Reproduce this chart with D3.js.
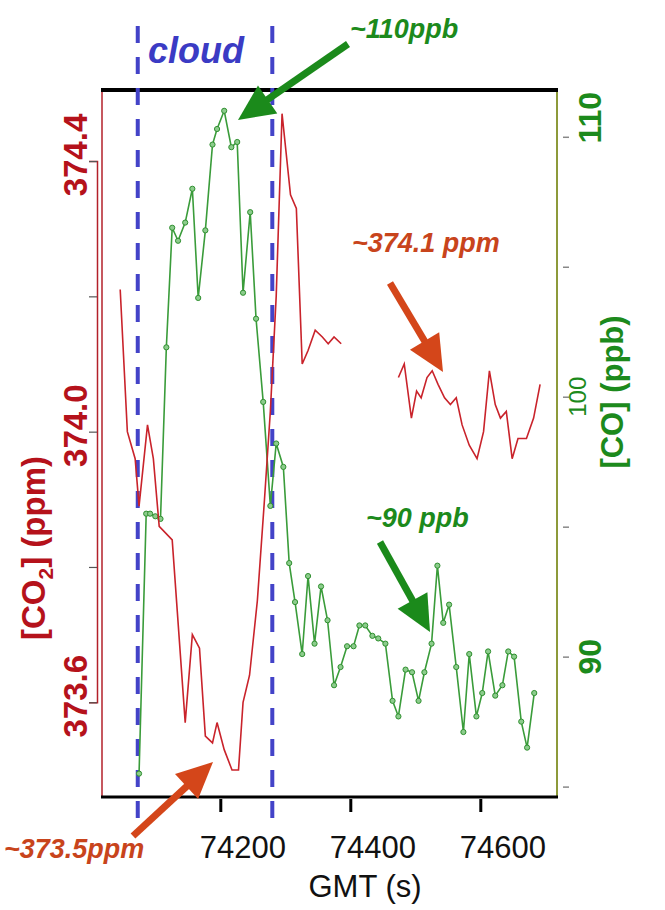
<!DOCTYPE html>
<html>
<head>
<meta charset="utf-8">
<script src="https://cdn.jsdelivr.net/npm/d3@7"></script>
<style>
  html, body { margin: 0; padding: 0; background: #fff; }
  svg { display: block; font-family: 'Liberation Sans', Arial, sans-serif; }
</style>
</head>
<body>
<div id="chart"></div>
<script>
// GMT seconds and [CO2] ppm, first segment
const co2TimeA = [74046, 74057, 74069, 74075, 74088, 74097, 74106, 74126, 74146, 74157, 74168, 74177, 74188, 74195, 74206, 74218, 74228, 74235, 74245, 74257, 74268, 74277, 74286, 74295, 74308, 74317, 74326, 74335, 74346, 74357, 74366, 74375, 74386]
const co2ValA = [374.21, 374.00, 373.96, 373.89, 374.01, 373.96, 373.86, 373.84, 373.57, 373.70, 373.68, 373.55, 373.54, 373.57, 373.53, 373.50, 373.50, 373.60, 373.64, 373.75, 373.90, 374.03, 374.20, 374.47, 374.35, 374.33, 374.10, 374.12, 374.15, 374.14, 374.13, 374.14, 374.13]
// second segment (after the data gap)
const co2TimeB = [74474, 74483, 74494, 74502, 74509, 74518, 74526, 74535, 74545, 74554, 74563, 74572, 74583, 74595, 74605, 74614, 74623, 74631, 74640, 74649, 74658, 74671, 74682, 74692]
const co2ValB = [374.08, 374.10, 374.02, 374.06, 374.05, 374.08, 374.09, 374.07, 374.05, 374.04, 374.05, 374.01, 373.98, 373.96, 374.00, 374.09, 374.04, 374.02, 374.03, 373.96, 373.99, 373.99, 374.02, 374.07]
// [CO] ppb
const coTime = [74075, 74086, 74092, 74100, 74108, 74117, 74126, 74135, 74146, 74157, 74166, 74177, 74188, 74195, 74206, 74217, 74226, 74235, 74246, 74255, 74266, 74277, 74286, 74297, 74306, 74315, 74326, 74335, 74345, 74355, 74365, 74375, 74385, 74395, 74405, 74414, 74423, 74434, 74443, 74454, 74465, 74474, 74485, 74495, 74505, 74514, 74525, 74534, 74543, 74552, 74563, 74574, 74583, 74594, 74603, 74612, 74623, 74634, 74643, 74652, 74663, 74672, 74683]
const coVal = [85.5, 95.5, 95.5, 95.4, 95.3, 101.9, 106.5, 106.0, 106.7, 108.0, 103.8, 106.4, 109.7, 110.3, 111.0, 109.6, 109.8, 104.0, 107.1, 103.0, 99.8, 95.8, 98.2, 97.3, 93.6, 92.1, 90.1, 93.1, 90.5, 92.7, 91.4, 88.9, 89.6, 90.4, 90.4, 91.2, 91.2, 90.8, 90.7, 90.5, 88.3, 87.7, 89.5, 89.4, 88.3, 89.4, 90.5, 93.5, 91.3, 92.0, 89.6, 87.1, 90.1, 87.7, 88.6, 90.2, 88.5, 88.9, 90.2, 90.0, 87.5, 86.5, 88.6]

const cloudEdges = [74073, 74280]
const xTicks = [74200, 74400, 74600]
const co2Ticks = [373.6, 373.8, 374.0, 374.2, 374.4]
const co2Labels = [373.6, 374.0, 374.4]
const coTicks = [85, 90, 95, 100, 105, 110]
const coLabels = [90, 100, 110]

const W = 665
const H = 910
const pLeft = 102, pRight = 557, pTop = 90, pBottom = 797

const svg = d3.select('#chart').append('svg')
  .attr('width', W)
  .attr('height', H)

const x = d3.scaleLinear().domain([74018, 74718]).range([pLeft, pRight])
const yCO2 = d3.scaleLinear().domain([373.46, 374.505]).range([pBottom, pTop])
const yCO = d3.scaleLinear().domain([84.6, 111.8]).range([pBottom, pTop])

const red = '#c9232b'
const green = '#3a9c3a'
const textGreen = '#1c8a1c'
const orange = '#c8441c'

// frame
svg.append('line').attr('x1', pLeft).attr('x2', pLeft).attr('y1', pTop).attr('y2', pBottom)
  .attr('stroke', '#b3202a').attr('stroke-width', 1.5)
svg.append('line').attr('x1', pRight).attr('x2', pRight).attr('y1', pTop).attr('y2', pBottom)
  .attr('stroke', '#8d9a3a').attr('stroke-width', 2)
svg.append('line').attr('x1', pLeft - 1).attr('x2', pRight + 1).attr('y1', pTop).attr('y2', pTop)
  .attr('stroke', '#000').attr('stroke-width', 4)
svg.append('line').attr('x1', pLeft - 1).attr('x2', pRight + 1).attr('y1', pBottom).attr('y2', pBottom)
  .attr('stroke', '#000').attr('stroke-width', 3)

// left CO2 axis, offset a little from the frame
const co2Axis = d3.scaleLinear().domain(d3.extent(co2Ticks)).range([yCO2(373.6), yCO2(374.4)])
const gl = svg.append('g').attr('transform', 'translate(97,0)')
  .call(d3.axisLeft(co2Axis).tickValues(co2Ticks).tickSize(8).tickFormat(''))
gl.select('.domain').attr('stroke', '#b3202a').attr('stroke-width', 1.5)
gl.selectAll('.tick line').attr('stroke', '#555').attr('stroke-width', 1.2)

svg.selectAll('.co2lab').data(co2Labels).enter().append('text')
  .attr('class', 'co2lab')
  .attr('transform', d => 'translate(87,' + (yCO2(d) - 6) + ') rotate(-90)')
  .attr('text-anchor', 'middle')
  .attr('fill', '#b5121b')
  .attr('font-weight', 'bold')
  .attr('font-size', 33)
  .text(d => d.toFixed(1))

svg.append('text')
  .attr('transform', 'translate(45,548) rotate(-90)')
  .attr('text-anchor', 'middle')
  .attr('fill', '#b5121b')
  .attr('font-weight', 'bold')
  .attr('font-size', 33)
  .html('[CO<tspan font-size="21" dy="8">2</tspan><tspan dy="-8">] (ppm)</tspan>')

// right CO axis
const gr = svg.append('g').attr('transform', 'translate(' + pRight + ',0)')
  .call(d3.axisRight(yCO).tickValues(coTicks).tickSize(12).tickFormat(''))
gr.select('.domain').remove()
gr.selectAll('.tick line').attr('x1', 6).attr('stroke', '#888').attr('stroke-width', 1.5)

svg.selectAll('.colab').data(coLabels).enter().append('text')
  .attr('class', 'colab')
  .attr('transform', d => 'translate(' + (d === 100 ? 586 : 601) + ',' + (yCO(d) - (d === 110 ? 19 : 0)) + ') rotate(-90)')
  .attr('text-anchor', 'middle')
  .attr('fill', textGreen)
  .attr('font-weight', d => d === 100 ? 'normal' : 'bold')
  .attr('font-size', d => d === 100 ? 24 : 32)
  .text(d => d)

svg.append('text')
  .attr('transform', 'translate(623,392) rotate(-90)')
  .attr('text-anchor', 'middle')
  .attr('fill', textGreen)
  .attr('font-weight', 'bold')
  .attr('font-size', 31)
  .text('[CO] (ppb)')

// bottom axis
const gx = svg.append('g').attr('transform', 'translate(0,' + (pBottom + 2) + ')')
  .call(d3.axisBottom(x).tickValues(xTicks).tickSize(13).tickFormat(d3.format('d')))
gx.select('.domain').remove()
gx.selectAll('.tick line').attr('stroke', '#000').attr('stroke-width', 3)
gx.selectAll('.tick text')
  .attr('x', 22).attr('y', 59).attr('dy', 0)
  .attr('fill', '#111')
  .attr('font-size', 31)
  .attr('font-family', "'Liberation Sans', Arial, sans-serif")

svg.append('text')
  .attr('x', 365).attr('y', 897)
  .attr('text-anchor', 'middle')
  .attr('fill', '#111')
  .attr('font-size', 31)
  .text('GMT (s)')

// cloud boundaries
svg.selectAll('.cloud').data(cloudEdges).enter().append('line')
  .attr('class', 'cloud')
  .attr('x1', d => x(d)).attr('x2', d => x(d))
  .attr('y1', 26).attr('y2', 822)
  .attr('stroke', '#4343c8')
  .attr('stroke-width', 4)
  .attr('stroke-dasharray', '17,14')

svg.append('text')
  .attr('x', 148).attr('y', 63)
  .attr('fill', '#3b3bc4')
  .attr('font-weight', 'bold')
  .attr('font-style', 'italic')
  .attr('font-size', 36)
  .text('cloud')

// data lines
const lineCO2 = d3.line().x(d => x(d[0])).y(d => yCO2(d[1]))
const lineCO = d3.line().x(d => x(d[0])).y(d => yCO(d[1]))

const co2A = co2TimeA.map((t, i) => [t, co2ValA[i]])
const co2B = co2TimeB.map((t, i) => [t, co2ValB[i]])
const co = coTime.map((t, i) => [t, coVal[i]])

svg.append('path').datum(co).attr('d', lineCO)
  .attr('fill', 'none').attr('stroke', green).attr('stroke-width', 1.6)
svg.selectAll('.dot').data(co).enter().append('circle')
  .attr('class', 'dot')
  .attr('cx', d => x(d[0])).attr('cy', d => yCO(d[1]))
  .attr('r', 2.6)
  .attr('fill', '#8ccc8c').attr('stroke', '#2f8f2f').attr('stroke-width', 1)

svg.selectAll('.co2').data([co2A, co2B]).enter().append('path')
  .attr('class', 'co2')
  .attr('d', lineCO2)
  .attr('fill', 'none').attr('stroke', red).attr('stroke-width', 1.6)

// annotation arrows
function arrow (x1, y1, x2, y2, color) {
  const dx = x2 - x1, dy = y2 - y1
  const len = Math.sqrt(dx * dx + dy * dy)
  const ux = dx / len, uy = dy / len
  const hl = 36, hw = 17
  const bx = x2 - ux * hl, by = y2 - uy * hl
  svg.append('line')
    .attr('x1', x1).attr('y1', y1).attr('x2', bx + ux * 2).attr('y2', by + uy * 2)
    .attr('stroke', color).attr('stroke-width', 7)
  svg.append('polygon')
    .attr('points', [[x2, y2], [bx - uy * hw, by + ux * hw], [bx + uy * hw, by - ux * hw]].map(p => p.join(',')).join(' '))
    .attr('fill', color)
}

function note (tx, ty, txt, color) {
  svg.append('text')
    .attr('x', tx).attr('y', ty)
    .attr('fill', color)
    .attr('font-weight', 'bold')
    .attr('font-style', 'italic')
    .attr('font-size', 27)
    .text(txt)
}

arrow(348, 44, 238, 120, '#1b8a1b')
note(350, 38, '~110ppb', textGreen)

arrow(390, 283, 443, 372, '#d4461a')
note(352, 252, '~374.1 ppm', orange)

arrow(380, 542, 430, 632, '#1b8a1b')
note(366, 527, '~90 ppb', textGreen)

arrow(133, 836, 213, 762, '#d4461a')
note(4, 858, '~373.5ppm', orange)
</script>
</body>
</html>
